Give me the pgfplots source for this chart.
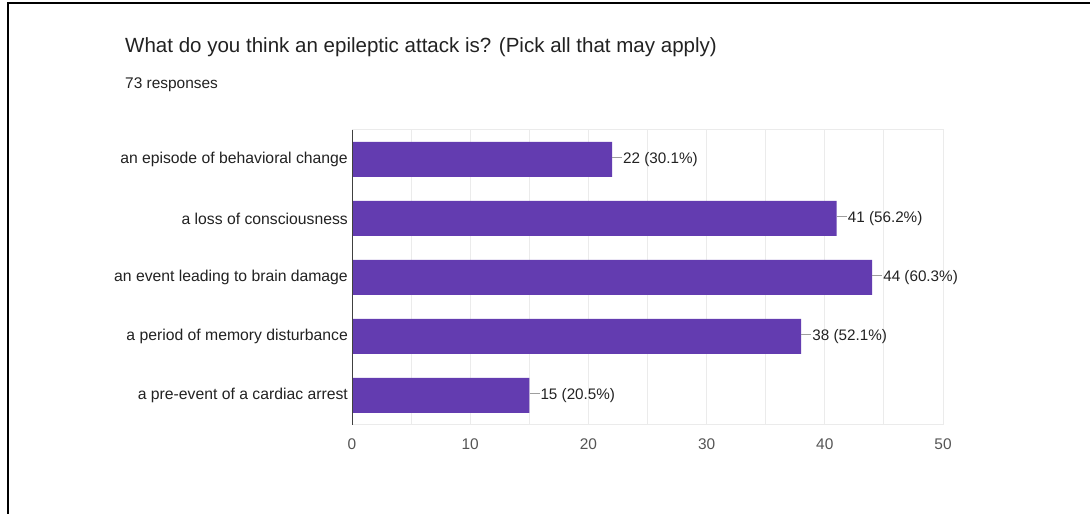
\documentclass[border=0pt]{standalone}
\usepackage{pgfplots}
\pgfplotsset{compat=1.18}
\usepackage{fontspec}
\setmainfont{Liberation Sans}
\definecolor{barc}{HTML}{633CB0}
\definecolor{gridc}{HTML}{EBEBEB}
\definecolor{leader}{HTML}{9E9E9E}
\definecolor{txt}{HTML}{222222}
\definecolor{tick}{HTML}{555555}
\begin{document}
\begin{tikzpicture}[x=1bp,y=1bp]
\useasboundingbox (0,0) rectangle (1090,514);
\fill[white] (0,0) rectangle (1090,514);
\draw[black,line width=2bp] (8,0) -- (8,511) -- (1090,511);
\node[anchor=base west,inner sep=0,text=txt,font=\fontsize{20.6}{23}\selectfont] at (125,461) {What do you think an epileptic attack is? (Pick all that may apply)};
\node[anchor=base west,inner sep=0,text=txt,font=\fontsize{15.5}{17}\selectfont] at (125,425) {73 responses};
\begin{axis}[
  at={(352bp,89bp)}, anchor=south west,
  scale only axis, width=591bp, height=295bp,
  xbar, bar width=35bp,
  xmin=0, xmax=50, ymin=-0.5, ymax=4.5,
  y dir=reverse,
  ytick={0,1,2,3,4},
  yticklabels={an episode of behavioral change, a loss of consciousness, an event leading to brain damage, a period of memory disturbance, a pre-event of a cardiac arrest},
  xtick={0,10,20,30,40,50},
  minor xtick={5,15,25,35,45},
  xmajorgrids, xminorgrids,
  major grid style={draw=gridc, line width=1bp},
  minor grid style={draw=gridc, line width=1bp},
  axis line style={draw=gridc, line width=1bp},
  major tick length=0pt, minor tick length=0pt,
  /pgf/number format/assume math mode=true,
  y tick label style={inner sep=0pt, xshift=-4bp, text=txt, font=\fontsize{15.8}{17}\selectfont},
  x tick label style={inner sep=0pt, anchor=north, yshift=-14bp, text=tick, font=\fontsize{15.5}{17}\selectfont},
  point meta=explicit symbolic,
  nodes near coords={\textcolor{leader}{\rule[0.33em]{10bp}{1bp}}\hspace{1bp}\pgfplotspointmeta},
  every node near coord/.append style={anchor=west, inner sep=0pt, xshift=0bp, text=txt, font=\fontsize{15.3}{17}\selectfont},
]
\addplot[fill=barc, draw=none] coordinates {
  (22,0) [22 (30.1\%)]
  (41,1) [41 (56.2\%)]
  (44,2) [44 (60.3\%)]
  (38,3) [38 (52.1\%)]
  (15,4) [15 (20.5\%)]
};
\draw[color=black!75, line width=1.3bp] (axis cs:0,-0.5) -- (axis cs:0,4.5);
\end{axis}
\end{tikzpicture}
\end{document}
